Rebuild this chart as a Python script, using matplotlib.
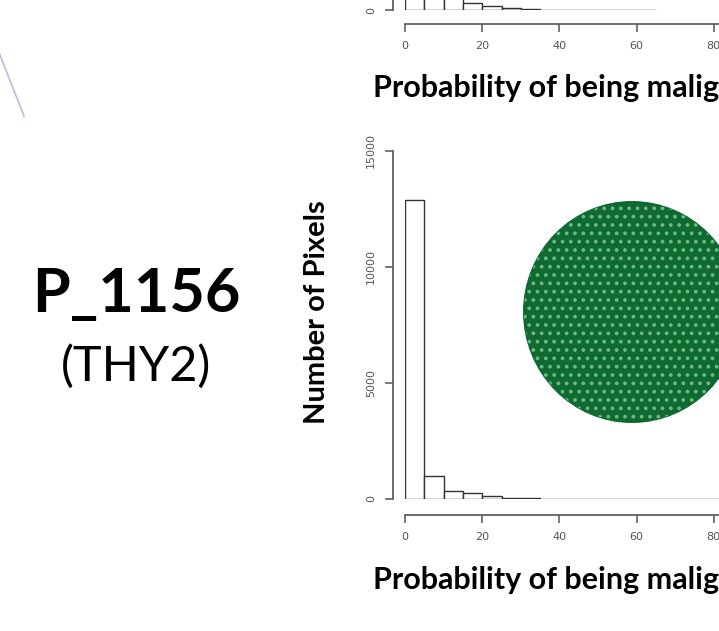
import matplotlib
matplotlib.use('Agg')
import matplotlib.pyplot as plt
from matplotlib.patches import Ellipse

W, H = 719, 631

# histogram bins (probability of being malignant, %)
bin_edges = list(range(0, 100, 5))
counts_top = [9000, 3000, 900, 300, 170, 90, 50, 20, 0, 0, 0, 0, 0, 0, 0, 0, 0, 0, 0, 0]
counts_bottom = [12900, 980, 350, 240, 120, 60, 30, 15, 0, 0, 0, 0, 0, 0, 0, 0, 0, 0, 0, 0]
top_range = 65
x_ticks = [0, 20, 40, 60, 80, 100]
y_ticks = [0, 5000, 10000, 15000]

plt.rcParams['hatch.linewidth'] = 1.5

fig = plt.figure(figsize=(W / 100, H / 100), dpi=100)
fig.patch.set_facecolor('white')


def px_axes(x0, y_top, x1, y_bot):
    # axes placed by pixel box (origin top-left)
    return fig.add_axes([x0 / W, 1 - y_bot / H, (x1 - x0) / W, (y_bot - y_top) / H])


def r_hist(ax, counts, xmax, x_out, y_out, yt):
    n = sum(1 for e in bin_edges if e < xmax)
    ax.bar(bin_edges[:n], counts[:n], width=5, align='edge', color='white',
           edgecolor='#333333', linewidth=1.0)
    ax.set_xlim(0, 100)
    ax.set_ylim(0, 15000)
    for s in ['top', 'right']:
        ax.spines[s].set_visible(False)
    ax.spines['left'].set_position(('outward', x_out))
    ax.spines['bottom'].set_position(('outward', y_out))
    ax.spines['left'].set_bounds(0, 15000)
    ax.spines['bottom'].set_bounds(0, 100)
    for s in ['left', 'bottom']:
        ax.spines[s].set_color('#555555')
        ax.spines[s].set_linewidth(1.2)
    ax.set_xticks(x_ticks)
    ax.set_yticks(yt)
    ax.set_yticklabels([str(v) for v in yt], rotation=90, va='center')
    ax.tick_params(length=6, width=1.1, color='#555555', labelsize=8,
                   labelcolor='#555555', pad=6)
    ax.patch.set_alpha(0)


# top (cropped) histogram
ax_top = px_axes(405, 10 - 348, 791, 10)
r_hist(ax_top, counts_top, top_range, 9, 10, y_ticks[:1])

# bottom histogram
ax_bot = px_axes(405, 151, 791, 499)
r_hist(ax_bot, counts_bottom, 100, 9, 11.5, y_ticks)

# overlay in pixel coordinates for slide elements
ov = fig.add_axes([0, 0, 1, 1])
ov.set_xlim(0, W)
ov.set_ylim(H, 0)
ov.axis('off')
ov.patch.set_alpha(0)

# tumour image inset
ov.add_patch(Ellipse((632, 312), 218, 222, facecolor='#0e6a30', edgecolor='none'))
ov.add_patch(Ellipse((632, 312), 216, 220, fill=False, hatch='..',
                     edgecolor='#6fb882', linewidth=0))

# slide decoration line
ov.plot([-2, 24], [50, 116], color='#b3c0d8', linewidth=1.2)

ov.text(136, 294, 'P_1156', fontsize=44, fontweight='bold', family='Lato',
        ha='center', va='center', color='black')
ov.text(136, 366, '(THY2)', fontsize=35, family='Lato',
        ha='center', va='center', color='black')
ov.text(317, 312, 'Number of Pixels', fontsize=21, fontweight='bold', family='Lato',
        rotation=90, ha='center', va='center', color='black')
for y in [88, 580]:
    ov.text(373, y, 'Probability of being malignant', fontsize=22, fontweight='bold',
            family='Lato', ha='left', va='center', color='black')

fig.savefig('out.png', dpi=100)
